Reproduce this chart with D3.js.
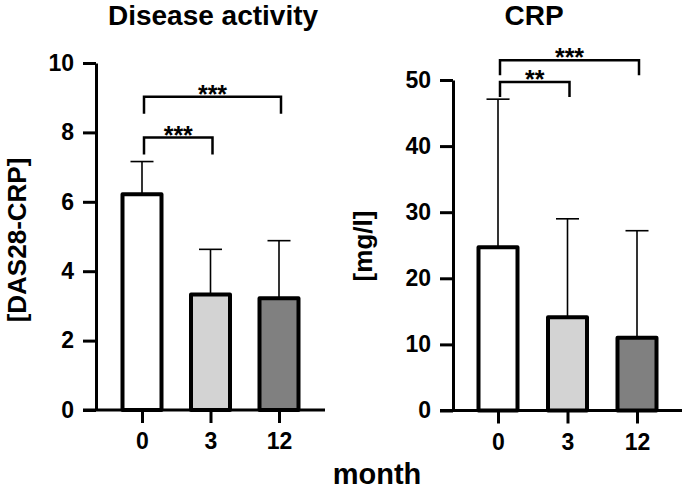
<!DOCTYPE html>
<html><head><meta charset="utf-8">
<script src="https://cdn.jsdelivr.net/npm/d3@7"></script>
<style>body{margin:0;background:#fff} svg{display:block} text{font-family:"Liberation Sans",Arial,sans-serif}</style>
</head><body><svg width="685" height="489"></svg>
<script>
// ---- data ----
const months = ["0", "3", "12"];
const dasMean = [6.22, 3.33, 3.22];
const dasUpper = [7.16, 4.63, 4.88];
const crpMean = [24.7, 14.1, 11.0];
const crpUpper = [47.1, 29.0, 27.2];
const dasTicks = [0, 2, 4, 6, 8, 10];
const crpTicks = [0, 10, 20, 30, 40, 50];
const dasBrackets = [
  {from: "0", to: "3", y: 7.85, label: "***"},
  {from: "0", to: "12", y: 9.03, label: "***"}
];
const crpBrackets = [
  {from: "0", to: "3", y: 49.7, label: "**"},
  {from: "0", to: "12", y: 53.0, label: "***"}
];
const barFills = ["#ffffff", "#d3d3d3", "#808080"];

const svg = d3.select("svg");

const panels = [
  {title: "Disease activity", ylabel: "[DAS28-CRP]", mean: dasMean, upper: dasUpper, ticks: dasTicks, brackets: dasBrackets,
   axisX: 96, y0: 410, yTop: 63, c0: 142, c1: 279, xEnd: 325, titleX: 213, ylabX: 26, ylabY: 240, legLen: 17},
  {title: "CRP", ylabel: "[mg/l]", mean: crpMean, upper: crpUpper, ticks: crpTicks, brackets: crpBrackets,
   axisX: 453, y0: 410.5, yTop: 80, c0: 498, c1: 637, xEnd: 682, titleX: 534, ylabX: 372, ylabY: 246, legLen: 15}
];

panels.forEach(p => {
  const g = svg.append("g");
  const y = d3.scaleLinear().domain([p.ticks[0], p.ticks[p.ticks.length - 1]]).range([p.y0, p.yTop]);
  const x = d3.scalePoint().domain(months).range([p.c0, p.c1]);

  // x axis
  g.append("line").attr("x1", p.axisX - 13).attr("x2", p.xEnd).attr("y1", p.y0).attr("y2", p.y0)
    .attr("stroke", "#000").attr("stroke-width", 3);
  const xa = g.append("g").attr("transform", `translate(0,${p.y0})`)
    .call(d3.axisBottom(x).tickSize(13).tickPadding(10));
  xa.select(".domain").remove();
  xa.selectAll("line").attr("stroke", "#000").attr("stroke-width", 3);
  xa.selectAll("text").attr("font-size", 23).attr("font-weight", "bold").attr("fill", "#000");

  // y axis
  const ya = g.append("g").attr("transform", `translate(${p.axisX},0)`)
    .call(d3.axisLeft(y).tickValues(p.ticks).tickSize(13).tickSizeOuter(0).tickPadding(9));
  ya.select(".domain").attr("stroke", "#000").attr("stroke-width", 3);
  ya.selectAll("line").attr("stroke", "#000").attr("stroke-width", 3);
  ya.selectAll("text").attr("font-size", 23).attr("font-weight", "bold").attr("fill", "#000");

  // error bars
  const eb = g.append("g");
  months.forEach((m, i) => {
    const cx = x(m);
    eb.append("line").attr("x1", cx).attr("x2", cx).attr("y1", y(p.mean[i])).attr("y2", y(p.upper[i]))
      .attr("stroke", "#000").attr("stroke-width", 1.6);
    eb.append("line").attr("x1", cx - 11.5).attr("x2", cx + 11.5).attr("y1", y(p.upper[i])).attr("y2", y(p.upper[i]))
      .attr("stroke", "#000").attr("stroke-width", 1.6);
  });

  // bars
  const bw = 39;
  g.selectAll("rect.bar").data(months).join("rect").attr("class", "bar")
    .attr("x", d => x(d) - bw / 2).attr("width", bw)
    .attr("y", (d, i) => y(p.mean[i])).attr("height", (d, i) => y(0) - y(p.mean[i]))
    .attr("fill", (d, i) => barFills[i]).attr("stroke", "#000").attr("stroke-width", 4)
    .attr("stroke-linejoin", "round");

  // brackets
  p.brackets.forEach(b => {
    const x1 = x(b.from) + 2, x2 = x(b.to) + 2, yy = y(b.y);
    g.append("path").attr("d", `M${x1},${yy + p.legLen}L${x1},${yy}L${x2},${yy}L${x2},${yy + p.legLen}`)
      .attr("fill", "none").attr("stroke", "#000").attr("stroke-width", 2.5);
    g.append("text").attr("x", (x1 + x2) / 2).attr("y", yy + 6).attr("text-anchor", "middle")
      .attr("font-size", 25).attr("font-weight", "bold").text(b.label);
  });

  // title
  g.append("text").attr("x", p.titleX).attr("y", 25).attr("text-anchor", "middle")
    .attr("font-size", 28).attr("font-weight", "bold").text(p.title);

  // y label
  g.append("text").attr("transform", `translate(${p.ylabX},${p.ylabY}) rotate(-90)`)
    .attr("text-anchor", "middle").attr("font-size", 26).attr("font-weight", "bold").text(p.ylabel);
});

svg.append("text").attr("x", 377).attr("y", 484).attr("text-anchor", "middle")
  .attr("font-size", 29).attr("font-weight", "bold").text("month");
</script>
</body></html>
